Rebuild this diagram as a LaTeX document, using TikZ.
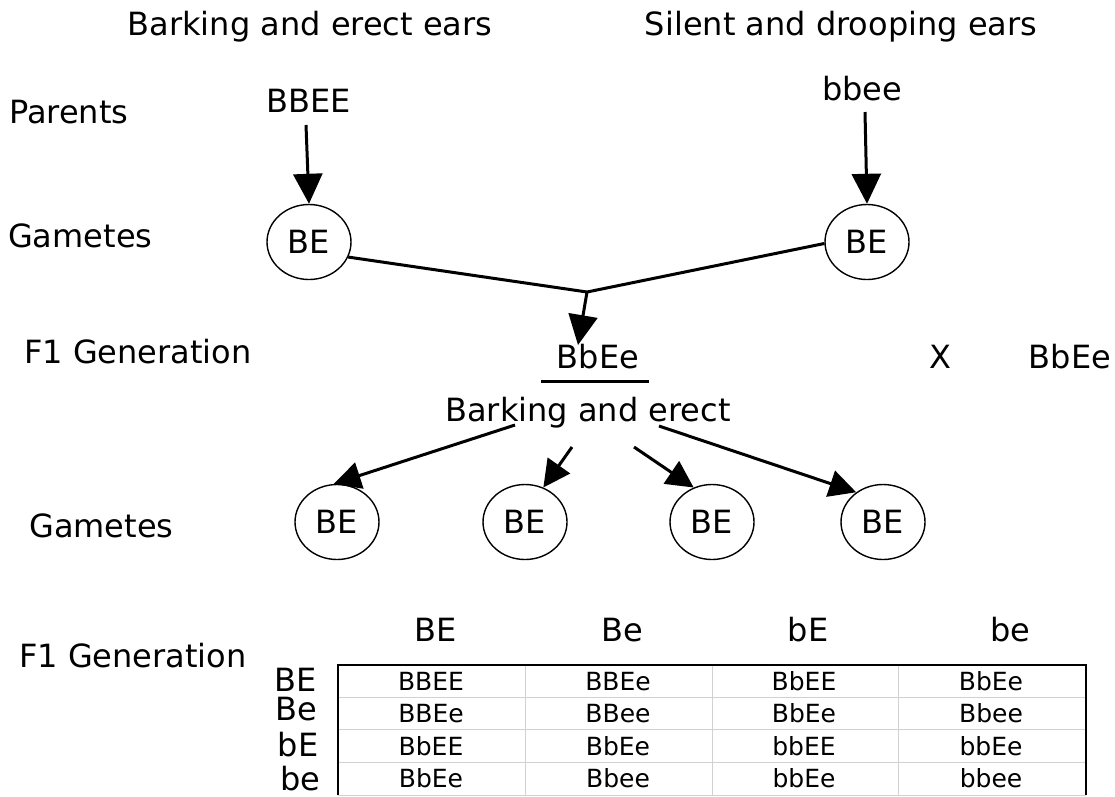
\documentclass[tikz,border=0pt]{standalone}
\usepackage{fontspec}
\setmainfont{DejaVu Sans}
\usetikzlibrary{shapes.geometric,arrows.meta,calc}
\begin{document}
\begin{tikzpicture}[x=1pt,y=-1pt,
  lbl/.style={font=\fontsize{32}{37}\selectfont, inner sep=0pt, anchor=base},
  lbll/.style={lbl, anchor=base west},
  cell/.style={font=\fontsize{25}{29}\selectfont, inner sep=0pt, anchor=base},
  gam/.style={ellipse, draw, line width=1.4pt, minimum width=84pt, minimum height=75pt,
    inner sep=0pt, font=\fontsize{32}{37}\selectfont},
  arr/.style={line width=3pt, -{Triangle[length=30pt,width=29pt]}},
  arrs/.style={line width=3pt, -{Triangle[length=27pt,width=27pt]}},
  link/.style={line width=3pt},
  grid/.style={draw=black!18, line width=1pt}]
\useasboundingbox (0,0) rectangle (1115,796);

% headings
\node[lbl] (hd1) at (310,35) {Barking and erect ears};
\node[lbl] (hd2) at (841,35) {Silent and drooping ears};

% row captions
\node[lbll] (rParents) at (9,123) {Parents};
\node[lbll] (rGam1) at (8,247) {Gametes};
\node[lbll] (rF1a) at (24,363) {F1 Generation};
\node[lbll] (rGam2) at (29,537) {Gametes};
\node[lbll] (rF1b) at (19,667) {F1 Generation};

% parents and their gametes
\node[lbl] (p1) at (309,112) {BBEE};
\node[lbl] (p2) at (862,100) {bbee};
\node[gam] (g1) at (309,242) {BE};
\node[gam] (g2) at (867,242) {BE};
\draw[arr] (306,125) -- (g1.north);
\draw[arr] (865,112) -- (g2.north);

% fertilisation
\coordinate (J) at (587,292);
\node[lbl] (f1) at (598,368) {BbEe};
\draw[link] (g1.-21) -- (J);
\draw[link] (g2.182) -- (J);
\draw[arr] (J) -- (578,345);
\draw[line width=3pt] (541,381) -- (649,381);
\node[lbl] (phen) at (588,421) {Barking and erect};
\node[lbl] (cross) at (940,368) {X};
\node[lbl] (f1b) at (1070,368) {BbEe};

% F1 gametes
\node[gam] (ga1) at (337,522) {BE};
\node[gam] (ga2) at (525,522) {BE};
\node[gam] (ga3) at (712,522) {BE};
\node[gam] (ga4) at (883,522) {BE};
\coordinate (s1) at (515,425);
\coordinate (s2) at (572,447);
\coordinate (s3) at (634,447);
\coordinate (s4) at (659,426);
\draw[arrs] (s1) -- (ga1.95);
\draw[arrs] (s2) -- (ga2.62);
\draw[arrs] (s3) -- (ga3.118);
\draw[arrs] (s4) -- (ga4.132);

% Punnett square headers
\node[lbl] (cBE) at (436,641) {BE};
\node[lbl] (cBe) at (622,641) {Be};
\node[lbl] (cbE) at (808,641) {bE};
\node[lbl] (cbe) at (1010,641) {be};
\node[lbl] (rBE) at (296,691) {BE};
\node[lbl] (rBe) at (296,720) {Be};
\node[lbl] (rbE) at (298,756) {bE};
\node[lbl] (rbe) at (300,790) {be};

% Punnett square grid
\draw[grid] (525,665) -- (525,795) (712,665) -- (712,795) (898,665) -- (898,795);
\draw[grid] (338,697) -- (1086,697) (338,729) -- (1086,729) (338,762) -- (1086,762);
\draw[grid] (338,795) -- (1086,795);
\draw[line width=1.5pt] (338,795) -- (338,665) -- (1086,665) -- (1086,795);

% Punnett square cells
\foreach \r/\y in {1/690,2/722,3/755,4/787}{
  \foreach \c/\x in {1/431,2/618,3/804,4/991}{
    \coordinate (cell\r\c) at (\x,\y);
  }
}
\node[cell] (t11) at (cell11) {BBEE};
\node[cell] (t12) at (cell12) {BBEe};
\node[cell] (t13) at (cell13) {BbEE};
\node[cell] (t14) at (cell14) {BbEe};
\node[cell] (t21) at (cell21) {BBEe};
\node[cell] (t22) at (cell22) {BBee};
\node[cell] (t23) at (cell23) {BbEe};
\node[cell] (t24) at (cell24) {Bbee};
\node[cell] (t31) at (cell31) {BbEE};
\node[cell] (t32) at (cell32) {BbEe};
\node[cell] (t33) at (cell33) {bbEE};
\node[cell] (t34) at (cell34) {bbEe};
\node[cell] (t41) at (cell41) {BbEe};
\node[cell] (t42) at (cell42) {Bbee};
\node[cell] (t43) at (cell43) {bbEe};
\node[cell] (t44) at (cell44) {bbee};
\end{tikzpicture}
\end{document}
